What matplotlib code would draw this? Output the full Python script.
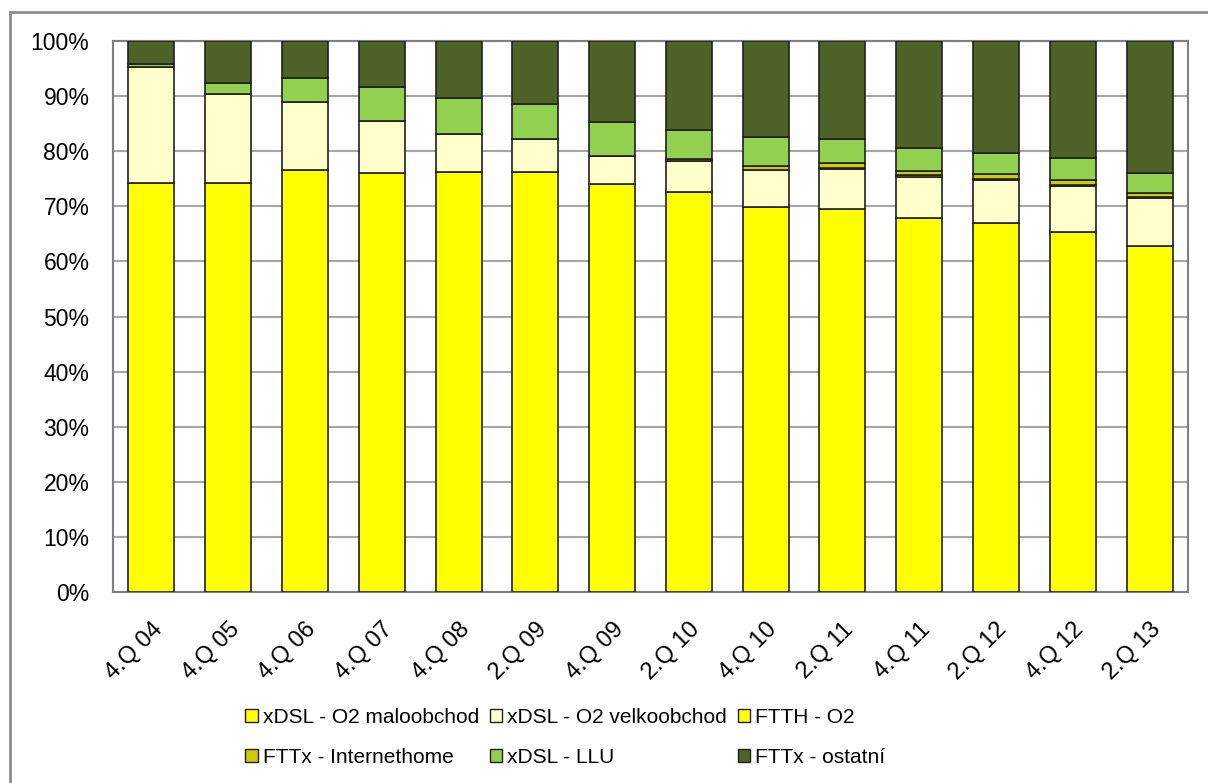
import numpy as np
from matplotlib import pyplot as plt
from matplotlib.patches import Patch, Rectangle
from matplotlib.ticker import FuncFormatter

plt.rcParams["font.family"] = ["Liberation Sans", "DejaVu Sans"]

# data (percent of connections)
quarters = ['4.Q 04', '4.Q 05', '4.Q 06', '4.Q 07', '4.Q 08', '2.Q 09', '4.Q 09',
            '2.Q 10', '4.Q 10', '2.Q 11', '4.Q 11', '2.Q 12', '4.Q 12', '2.Q 13']
xdsl_malo = [74.3, 74.3, 76.6, 76.1, 76.3, 76.3, 74.0, 72.6, 69.9, 69.6, 67.9, 67.0, 65.3, 62.8]
xdsl_velko = [20.9, 16.1, 12.4, 9.3, 6.9, 6.0, 5.2, 5.6, 6.6, 7.2, 7.4, 7.7, 8.3, 8.7]
ftth_o2 = [0, 0, 0, 0, 0, 0, 0, 0.1, 0, 0.2, 0.3, 0.2, 0.3, 0.2]
fttx_ih = [0, 0, 0, 0, 0, 0, 0, 0.2, 0.9, 0.9, 0.8, 0.9, 0.9, 0.7]
xdsl_llu = [0.6, 2.0, 4.3, 6.3, 6.5, 6.2, 6.1, 5.3, 5.2, 4.4, 4.1, 3.9, 3.9, 3.6]
fttx_ost = [4.2, 7.6, 6.7, 8.3, 10.3, 11.5, 14.7, 16.2, 17.4, 17.7, 19.5, 20.3, 21.3, 24.0]

series = [
    ('xDSL - O2 maloobchod', xdsl_malo, '#FFFF00'),
    ('xDSL - O2 velkoobchod', xdsl_velko, '#FFFFCC'),
    ('FTTH - O2', ftth_o2, '#FFFF00'),
    ('FTTx - Internethome', fttx_ih, '#CCCC00'),
    ('xDSL - LLU', xdsl_llu, '#92D050'),
    ('FTTx - ostatní', fttx_ost, '#4F6228'),
]

fig = plt.figure(figsize=(12.08, 7.83), dpi=100)
ax = fig.add_axes([113 / 1208, 1 - 592 / 783, 1075 / 1208, 551 / 783])

x = np.arange(len(quarters))
bottom = np.zeros(len(quarters))
for name, vals, color in series:
    vals = np.array(vals, dtype=float)
    ax.bar(x, vals, bottom=bottom, width=0.6, color=color,
           edgecolor='#202020', linewidth=1.2, zorder=3)
    bottom += vals

ax.set_xlim(-0.5, len(quarters) - 0.5)
ax.set_ylim(0, 100)
ax.set_yticks(np.arange(0, 101, 10))
ax.yaxis.set_major_formatter(FuncFormatter(lambda v, p: f'{int(v)}%'))
ax.yaxis.grid(True, color='#A6A6A6', linewidth=1.5, zorder=0)
ax.set_axisbelow(True)
ax.tick_params(axis='y', length=0, labelsize=16.5, pad=17)
ax.set_xticks(x)
ax.set_xticklabels(quarters, rotation=45, ha='right', va='top',
                   rotation_mode='anchor', fontsize=17)
ax.tick_params(axis='x', length=0, pad=19)
for s in ax.spines.values():
    s.set_color('#808080')
    s.set_linewidth(1.5)

# legend: three columns, two rows (column-major order for matplotlib)
handles = [Patch(facecolor=c, edgecolor='#202020', linewidth=1, label=n)
           for n, v, c in series]
order = [0, 3, 1, 4, 2, 5]
fig.legend([handles[i] for i in order], [handles[i].get_label() for i in order],
           ncol=3, loc='center', bbox_to_anchor=(0.468, 0.058), frameon=False,
           fontsize=15, handlelength=0.6, handleheight=0.6, handletextpad=0.25,
           columnspacing=0.5, labelspacing=1.0)

# chart area frame
fig.add_artist(Rectangle((10 / 1208, -0.05), 1.2, 1.05 - 12 / 783, transform=fig.transFigure,
                         fill=False, edgecolor='#8C8C8C', linewidth=2, clip_on=False))

fig.savefig('out.png', dpi=100)
